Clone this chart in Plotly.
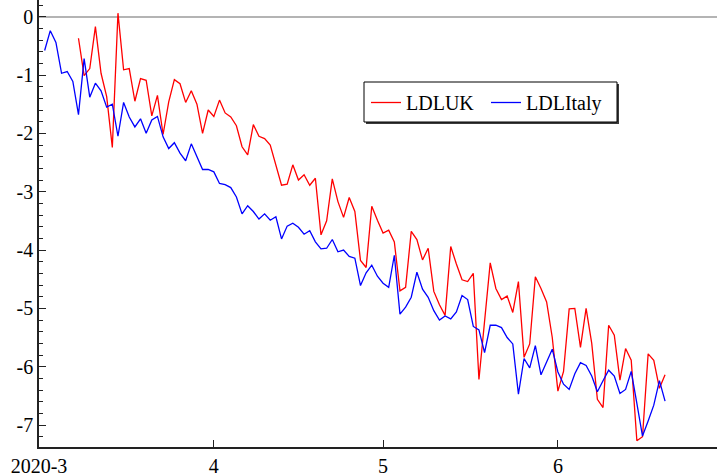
import pandas as pd
import plotly.graph_objects as go

# Daily log series, starting 2 March 2020 (Italy) and 8 March 2020 (UK)
italy_start = "2020-03-02"
uk_start = "2020-03-08"

ldl_italy = [
    -0.58, -0.24, -0.44, -0.97, -0.94, -1.11, -1.68, -0.72, -1.38, -1.14,
    -1.27, -1.55, -1.50, -2.05, -1.47, -1.72, -1.89, -1.75, -2.00, -1.77,
    -1.71, -2.06, -2.26, -2.16, -2.34, -2.47, -2.18, -2.39, -2.62, -2.62,
    -2.66, -2.86, -2.88, -2.93, -3.09, -3.38, -3.24, -3.34, -3.47, -3.38,
    -3.49, -3.43, -3.81, -3.59, -3.54, -3.61, -3.73, -3.67, -3.86, -3.98,
    -3.97, -3.82, -4.03, -4.00, -4.11, -4.14, -4.61, -4.39, -4.26, -4.45,
    -4.57, -4.64, -4.09, -5.10, -4.98, -4.81, -4.38, -4.67, -4.81, -5.04,
    -5.20, -5.13, -5.18, -5.06, -4.78, -4.85, -5.31, -5.37, -5.76, -5.29,
    -5.29, -5.33, -5.50, -5.61, -6.47, -5.86, -6.02, -5.64, -6.14, -5.92,
    -5.70, -6.09, -6.30, -6.39, -6.12, -5.93, -5.98, -6.16, -6.43, -6.24,
    -6.06, -6.16, -6.46, -6.39, -6.08, -6.63, -7.19, -6.93, -6.66, -6.24,
    -6.59,
]

ldl_uk = [
    -0.37, -1.01, -0.89, -0.17, -0.97, -1.37, -2.24, 0.06, -0.91, -0.89,
    -1.45, -1.06, -1.09, -1.70, -1.35, -2.02, -1.46, -1.08, -1.15, -1.47,
    -1.27, -1.50, -2.00, -1.60, -1.71, -1.43, -1.65, -1.72, -1.87, -2.23,
    -2.37, -1.85, -2.05, -2.09, -2.20, -2.57, -2.89, -2.87, -2.54, -2.80,
    -2.71, -2.89, -2.77, -3.74, -3.50, -2.78, -3.17, -3.44, -3.10, -3.34,
    -4.18, -4.30, -3.25, -3.49, -3.71, -3.66, -3.86, -4.70, -4.64, -3.68,
    -3.82, -4.17, -3.97, -4.71, -4.94, -5.12, -3.94, -4.24, -4.51, -4.54,
    -4.40, -6.22, -5.25, -4.22, -4.66, -4.85, -4.79, -5.07, -4.54, -5.84,
    -5.61, -4.46, -4.66, -4.89, -5.50, -6.42, -6.08, -5.01, -5.00, -5.67,
    -5.00, -5.60, -6.56, -6.70, -5.29, -5.46, -6.23, -5.69, -5.89, -7.27,
    -7.20, -5.78, -5.89, -6.37, -6.14,
]

x_tick_vals = ["2020-03-01", "2020-04-01", "2020-05-01", "2020-06-01"]
x_tick_text = ["2020-3", "4", "5", "6"]
y_tick_vals = [0, -1, -2, -3, -4, -5, -6, -7]
y_tick_text = ["0", "-1", "-2", "-3", "-4", "-5", "-6", "-7"]

dates_italy = pd.date_range(italy_start, periods=len(ldl_italy), freq="D")
dates_uk = pd.date_range(uk_start, periods=len(ldl_uk), freq="D")

FONT = "Liberation Serif"
ML, MB, W, H = 39, 29, 717, 476
PW, PH = W - ML, H - MB


def px_x(v):
    return (v - ML) / PW


def px_y(v):
    return 1 - v / PH


fig = go.Figure()
fig.add_trace(go.Scatter(x=dates_uk, y=ldl_uk, mode="lines", name="LDLUK",
                         line=dict(color="#ff0000", width=1.3)))
fig.add_trace(go.Scatter(x=dates_italy, y=ldl_italy, mode="lines", name="LDLItaly",
                         line=dict(color="#0000ff", width=1.3)))

# x-range: 1 March to about 29 June
fig.update_xaxes(
    type="date",
    range=["2020-03-01", "2020-06-29 05:00"],
    tickvals=x_tick_vals, ticktext=x_tick_text,
    ticks="inside", ticklen=7, tickcolor="#222", tickwidth=1,
    showline=True, linecolor="#222", linewidth=1.5,
    showgrid=False, zeroline=False,
    tickfont=dict(family=FONT, size=20, color="black"),
)
fig.update_yaxes(
    range=[-7.377, 0.286],
    tickvals=y_tick_vals, ticktext=y_tick_text,
    ticks="inside", ticklen=7, tickcolor="#222", tickwidth=1,
    minor=dict(dtick=0.2, ticks="inside", ticklen=4, tickcolor="#222", showgrid=False),
    showline=True, linecolor="#222", linewidth=1.5,
    showgrid=False,
    zeroline=True, zerolinecolor="#b4b4b4", zerolinewidth=1.5,
    tickfont=dict(family=FONT, size=20, color="black"),
)

# legend frame with a small drop shadow
fig.add_shape(type="rect", xref="paper", yref="paper",
              x0=px_x(366), x1=px_x(619), y0=px_y(124), y1=px_y(84),
              fillcolor="#3a3a3a", line=dict(width=0), layer="above")
fig.add_shape(type="rect", xref="paper", yref="paper",
              x0=px_x(364), x1=px_x(617), y0=px_y(122), y1=px_y(82),
              fillcolor="white", line=dict(color="black", width=1), layer="above")

fig.update_layout(
    width=W, height=H,
    margin=dict(l=ML, r=0, t=0, b=MB),
    plot_bgcolor="white", paper_bgcolor="white",
    font=dict(family=FONT, color="black"),
    legend=dict(
        orientation="h",
        x=px_x(366), y=px_y(83), xanchor="left", yanchor="top",
        bgcolor="rgba(0,0,0,0)", borderwidth=0,
        entrywidth=75,
        font=dict(family=FONT, size=20, color="black"),
    ),
)

fig.write_html("out.html")
